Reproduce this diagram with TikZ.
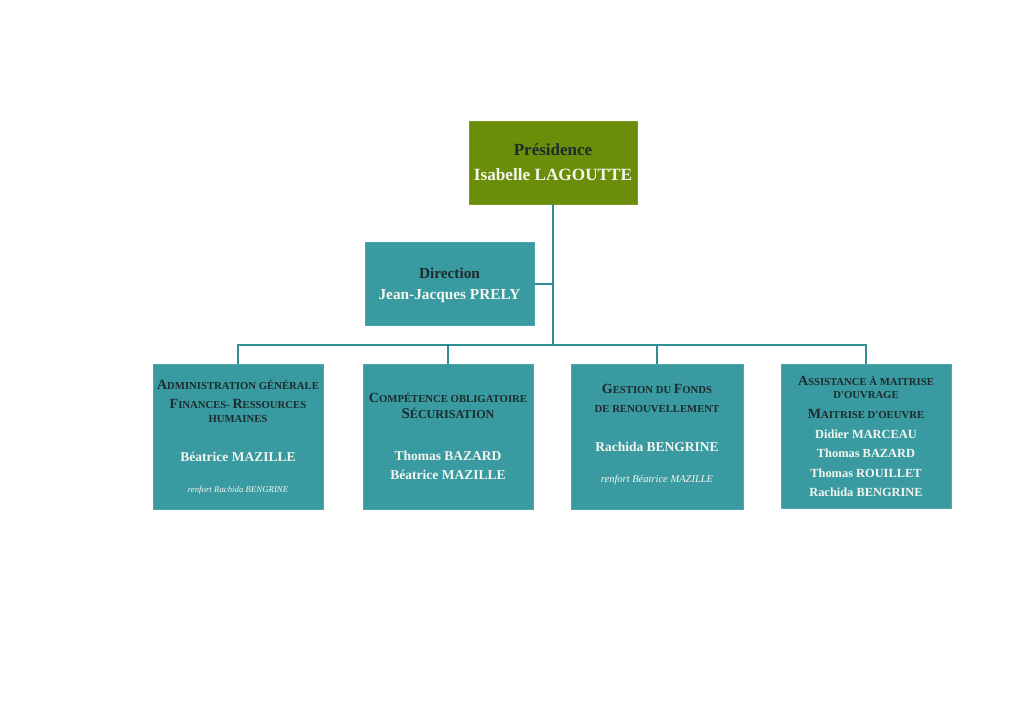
\documentclass[tikz,border=0pt]{standalone}
\usepackage{fontspec}
\setmainfont{Liberation Serif}
\definecolor{presgreen}{HTML}{6B8E0A}
\definecolor{presedge}{HTML}{7A9A20}
\definecolor{tealbox}{HTML}{3A9AA1}
\definecolor{tealedge}{HTML}{4AA8AE}
\definecolor{tealline}{HTML}{2F8E94}
\definecolor{darktxt}{HTML}{1C2B2B}
\definecolor{lighttxt}{HTML}{F4F6EE}
\newcommand{\fsc}[2]{{\fontsize{14}{16}\selectfont #1}{\fontsize{10.7}{12}\selectfont #2}}
\newcommand{\fscb}[2]{{\fontsize{15}{17}\selectfont #1}{\fontsize{12.1}{14}\selectfont #2}}
\newcommand{\fsm}[1]{{\fontsize{10.7}{12}\selectfont #1}}
\tikzset{
  orgbox/.style={rectangle, fill=tealbox, draw=tealedge, line width=0.8pt, inner sep=0pt},
  presbox/.style={rectangle, fill=presgreen, draw=presedge, line width=0.8pt, inner sep=0pt},
  conn/.style={draw=tealline, line width=2pt},
  headtxt/.style={font=\bfseries, text=darktxt, inner sep=0pt, anchor=center},
  nametxt/.style={font=\bfseries\fontsize{13.5}{15}\selectfont, text=lighttxt, inner sep=0pt, anchor=center},
  smallname/.style={nametxt, font=\bfseries\fontsize{12.4}{14}\selectfont},
  renftxt/.style={font=\itshape\fontsize{8.8}{10}\selectfont, text=lighttxt, inner sep=0pt, anchor=center},
}
\begin{document}
\begin{tikzpicture}[x={(1pt,0)}, y={(0,-1pt)}]
\useasboundingbox (0,0) rectangle (1024,724);
\fill[white] (0,0) rectangle (1024,724);

% Presidence
\node[presbox, minimum width=168pt, minimum height=83pt] (pres) at (553,162.5) {};
\node[headtxt, font=\bfseries\fontsize{17}{19}\selectfont] (presT) at (553,150) {Présidence};
\node[nametxt, font=\bfseries\fontsize{17.2}{19}\selectfont] (presN) at (553,174.5) {Isabelle LAGOUTTE};

% Direction
\node[orgbox, minimum width=169pt, minimum height=83pt] (dir) at (449.5,283.5) {};
\node[headtxt, font=\bfseries\fontsize{15.3}{17}\selectfont] (dirT) at (449.5,273) {Direction};
\node[nametxt, font=\bfseries\fontsize{15.3}{17}\selectfont] (dirN) at (449.5,296) {Jean-Jacques PRELY};

% bottom boxes
\node[orgbox, minimum width=170pt, minimum height=145pt] (b1) at (238,436.5) {};
\node[orgbox, minimum width=170pt, minimum height=145pt] (b2) at (448,436.5) {};
\node[orgbox, minimum width=172pt, minimum height=145pt] (b3) at (657,436.5) {};
\node[orgbox, minimum width=170pt, minimum height=144pt] (b4) at (866,436) {};

% connectors
\coordinate (busC) at (553,345);
\coordinate (bus1) at (238,345);
\coordinate (bus2) at (448,345);
\coordinate (bus3) at (657,345);
\coordinate (bus4) at (866,345);
\draw[conn] (pres.south) -- (busC);
\draw[conn] (dir.east) -- (dir.east -| pres.south);
\draw[conn] ([xshift=-1pt]bus1) -- ([xshift=1pt]bus4);
\draw[conn] (bus1) -- (b1.north);
\draw[conn] (bus2) -- (b2.north);
\draw[conn] (bus3) -- (b3.north);
\draw[conn] (bus4) -- (b4.north);

% box 1 text
\node[headtxt] (t1a) at (238,385) {\fsc{A}{DMINISTRATION GÉNÉRALE}};
\node[headtxt] (t1b) at (238,404) {\fsc{F}{INANCES-} \fsc{R}{ESSOURCES}};
\node[headtxt] (t1c) at (238,418.5) {\fsm{HUMAINES}};
\node[nametxt] (t1d) at (238,457) {Béatrice MAZILLE};
\node[renftxt] (t1e) at (238,490) {renfort Rachida BENGRINE};

% box 2 text
\node[headtxt] (t2a) at (448,398) {\fsc{C}{OMPÉTENCE OBLIGATOIRE}};
\node[headtxt] (t2b) at (448,413) {\fscb{S}{ÉCURISATION}};
\node[nametxt] (t2c) at (448,456) {Thomas BAZARD};
\node[nametxt] (t2d) at (448,475) {Béatrice MAZILLE};

% box 3 text
\node[headtxt] (t3a) at (657,389) {\fsc{G}{ESTION DU} \fsc{F}{ONDS}};
\node[headtxt] (t3b) at (657,409) {\fsm{DE RENOUVELLEMENT}};
\node[nametxt] (t3c) at (657,447) {Rachida BENGRINE};
\node[renftxt, font=\itshape\fontsize{10.5}{12}\selectfont] (t3d) at (657,480) {renfort Béatrice MAZILLE};

% box 4 text
\node[headtxt] (t4a) at (866,381) {\fsc{A}{SSISTANCE À MAITRISE}};
\node[headtxt] (t4b) at (866,395.5) {\fsm{D\textquotesingle OUVRAGE}};
\node[headtxt] (t4c) at (866,414) {\fsc{M}{AITRISE D\textquotesingle OEUVRE}};
\node[smallname] (t4d) at (866,434) {Didier MARCEAU};
\node[smallname] (t4e) at (866,453) {Thomas BAZARD};
\node[smallname] (t4f) at (866,473) {Thomas ROUILLET};
\node[smallname] (t4g) at (866,492) {Rachida BENGRINE};
\end{tikzpicture}
\end{document}
